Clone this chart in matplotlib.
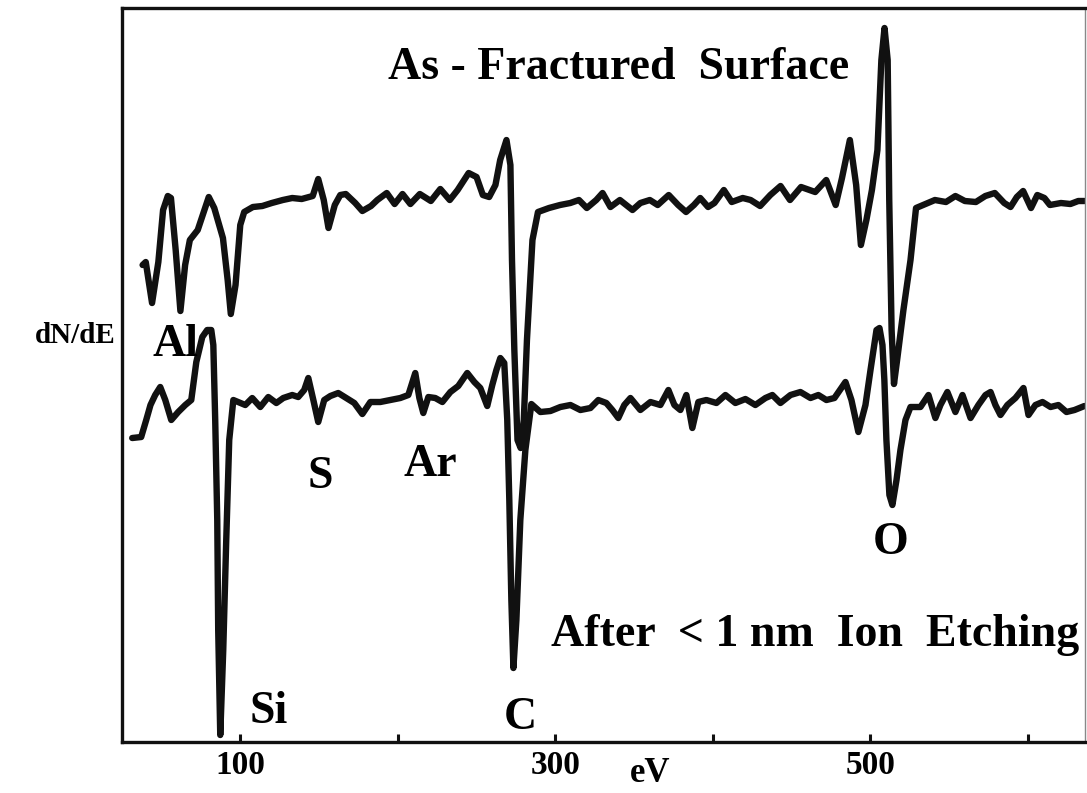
import matplotlib
matplotlib.use("Agg")
import matplotlib.pyplot as plt

plt.rcParams['font.family'] = ['Liberation Serif', 'DejaVu Serif']
plt.rcParams['font.weight'] = 'bold'

# Auger spectra, energy in eV, dN/dE in arbitrary units (curves offset)
fractured_ev = [38, 40, 44, 48, 51, 54, 56, 59, 62, 65, 68, 73, 80, 83.5, 89, 92, 94, 97,
                100, 102.5, 108, 114, 120, 127, 133, 139, 146, 149.5, 153, 156, 160, 163.5,
                167, 173, 177.5, 183, 187, 193, 198, 203, 208, 214, 221, 227, 233, 238, 245,
                250, 254, 258, 262, 265, 269, 271.5, 272.5, 274, 276, 278, 280, 282, 285.5,
                289, 296, 303, 309.5, 315, 320, 326, 330, 335, 341, 349, 354, 360, 365, 372,
                378, 383, 388, 392, 397, 401, 407, 412, 419, 424, 430, 436.5, 443, 449, 456,
                465, 472, 478, 482, 487, 491, 494, 497.5, 501, 504.5, 507, 509, 511, 512,
                513.5, 515, 517, 521, 525.5, 529, 535, 541, 548, 554, 560, 567, 573, 579,
                585, 589, 593, 597, 602, 606, 610.5, 614, 621, 627, 632, 636]
fractured_dn = [477, 480, 439, 480, 532, 546, 544, 492, 431, 477, 502, 512, 545, 534, 504,
                462, 428, 457, 517, 530, 535, 536, 539, 542, 544, 543, 546, 563, 542, 514,
                537, 547, 548, 539, 531, 536, 542, 549, 538, 548, 538, 548, 541, 553, 542,
                552, 569, 565, 547, 545, 557, 582, 602, 577, 482, 392, 302, 294, 322, 402,
                502, 530, 534, 537, 539, 542, 534, 542, 549, 535, 542, 532, 539, 542, 537,
                547, 537, 530, 537, 544, 535, 539, 552, 540, 544, 542, 536, 547, 556, 542,
                555, 550, 562, 537, 564, 602, 557, 497, 522, 552, 592, 682, 714, 682, 542,
                412, 358, 382, 432, 482, 534, 538, 542, 540, 546, 541, 540, 546, 549, 539,
                535, 545, 551, 534, 547, 544, 537, 539, 538, 541, 541]

etched_ev = [31.4, 37.1, 40.3, 43, 46, 49.2, 52.4, 56.2, 60.6, 65.1, 68.9, 72.1, 75.9, 79,
             81.6, 82.9, 84.1, 85.4, 86, 87.3, 89.2, 91.1, 93, 95.6, 98.7, 103.2, 107.6,
             112.7, 117.8, 122.9, 127.3, 133, 136.8, 140.6, 143.2, 146.4, 149.5, 153.3,
             157.2, 162.2, 167.3, 172.4, 177.5, 182.6, 188.9, 195.3, 201.6, 206.7, 211.1,
             213.7, 216.2, 219.4, 223.8, 228.3, 233.4, 238.4, 244.1, 248.6, 252.4, 256.8,
             260, 262.6, 265.1, 267.6, 269.5, 270.8, 272.1, 273.4, 275.3, 277.8, 281, 284.8,
             290.5, 296.9, 303.2, 309.6, 315.9, 322.3, 327.3, 332.4, 336.2, 340, 343.8,
             347.7, 354, 360.4, 366.7, 371.8, 375.6, 379.4, 383.2, 387, 390.8, 395.9, 402.3,
             408, 414.3, 420.7, 427, 433.4, 437.8, 442.9, 449.3, 455.6, 462, 467, 472.1,
             477.2, 484.2, 488, 492.4, 496.9, 500.1, 503.9, 505.8, 507.7, 508.9, 510.2,
             512.1, 514, 516.6, 519.1, 522.3, 525.5, 531.8, 536.9, 541.3, 544.5, 548.9, 554,
             558.5, 563.6, 568.6, 573.1, 576.3, 579.4, 582.6, 587, 592.1, 597.2, 600.4,
             604.8, 609.3, 614.4, 619.4, 624.5, 629.6, 635.9]
etched_dn = [304, 305, 322, 337, 347, 355, 342, 322, 330, 337, 342, 380, 405, 412, 412, 397,
             322, 222, 112, 7, 92, 202, 302, 342, 340, 337, 344, 335, 345, 339, 344, 347, 345,
             352, 364, 342, 320, 342, 346, 349, 344, 339, 328, 340, 340, 342, 344, 347, 369,
             344, 329, 345, 344, 340, 350, 356, 369, 360, 354, 336, 357, 372, 384, 379, 322,
             242, 142, 74, 122, 222, 292, 338, 330, 331, 335, 337, 332, 334, 342, 339, 332,
             324, 337, 344, 332, 340, 337, 352, 337, 332, 347, 314, 340, 342, 339, 347, 339,
             343, 337, 344, 347, 339, 347, 350, 344, 347, 342, 344, 360, 342, 310, 337, 372,
             412, 414, 397, 362, 302, 247, 237, 262, 292, 322, 335, 335, 347, 324, 337, 350,
             330, 347, 324, 337, 347, 350, 337, 327, 337, 344, 354, 327, 337, 340, 335, 337,
             330, 332, 336]

tick_values = [100, 200, 300, 400, 500, 600]
tick_labels = ['100', '', '300', '', '500', '']

peak_labels = ['Al', 'S', 'Ar', 'Si', 'C', 'O']
peak_ev = [58.7, 150.8, 220.6, 117.8, 277.8, 512.8]
peak_dn = [397, 265, 277, 30, 24, 199]

fig = plt.figure(figsize=(10.87, 7.93), dpi=100)
ax = fig.add_axes([0.1122, 0.0643, 0.8860, 0.9256])

line_kw = dict(color='#111111', lw=4.6, solid_joinstyle='round', solid_capstyle='round')
ax.plot(fractured_ev, fractured_dn, **line_kw)
ax.plot(etched_ev, etched_dn, **line_kw)

ax.set_xlim(24.9, 636.3)
ax.set_ylim(0, 734)

for side in ['left', 'top', 'bottom']:
    ax.spines[side].set_linewidth(2.4)
    ax.spines[side].set_color('#111111')
ax.spines['right'].set_linewidth(1.0)
ax.spines['right'].set_color('#888888')

ax.set_xticks(tick_values)
ax.set_xticklabels(tick_labels, fontsize=24, fontweight='bold')
ax.tick_params(axis='x', direction='in', length=6, width=2.2, pad=6, color='#111111')
ax.set_yticks([])

for lab, xv, yv in zip(peak_labels, peak_ev, peak_dn):
    ax.text(xv, yv, lab, fontsize=33, fontweight='bold', ha='center', va='center')

ax.text(340, 674, 'As - Fractured  Surface', fontsize=33, fontweight='bold',
        ha='center', va='center')
ax.text(465, 107, 'After  < 1 nm  Ion  Etching', fontsize=33, fontweight='bold',
        ha='center', va='center')

fig.text(0.069, 0.5775, 'dN/dE', fontsize=21, fontweight='bold', ha='center', va='center')
fig.text(0.598, 0.024, 'eV', fontsize=25, fontweight='bold', ha='center', va='center')

fig.savefig('out.png', dpi=100, facecolor='white')
